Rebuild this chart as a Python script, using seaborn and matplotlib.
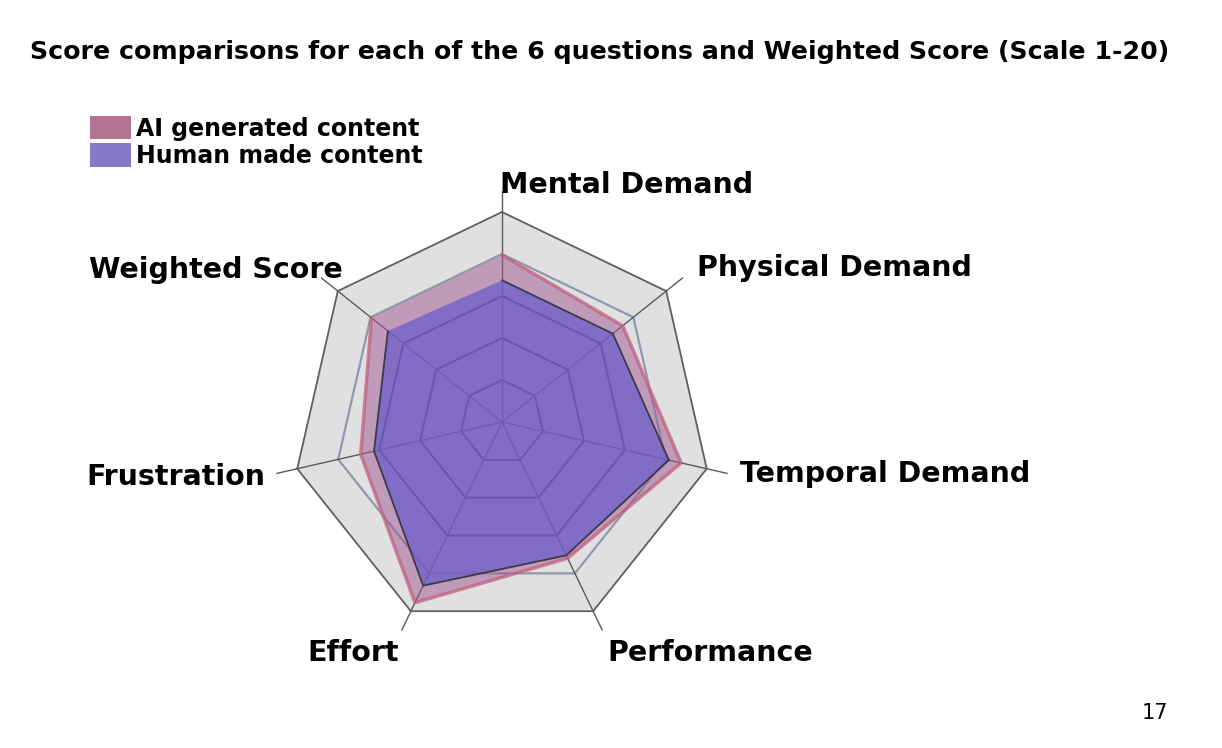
import numpy as np
import matplotlib
matplotlib.use("Agg")
import matplotlib.pyplot as plt
import seaborn as sns
from matplotlib.patches import Patch

# data (scale 1-20)
axes_labels = ["Mental Demand", "Physical Demand", "Temporal Demand", "Performance",
               "Effort", "Frustration", "Weighted Score"]
ai_scores = [15.9, 14.7, 17.5, 14.4, 19.1, 13.8, 15.9]
human_scores = [13.5, 13.5, 16.3, 14.1, 17.3, 12.5, 13.9]
ring_levels = [4, 8, 12, 16, 20]
series_names = ["AI generated content", "Human made content"]

sns.set_theme(style="white")
plt.rcParams["font.family"] = ["DejaVu Sans"]
plt.rcParams["text.color"] = "black"

n = len(axes_labels)
# clockwise from the top
theta = np.pi / 2 - 2 * np.pi * np.arange(n) / n

def to_xy(vals):
    v = np.asarray(vals, dtype=float)
    x = v * np.cos(theta)
    y = v * np.sin(theta)
    return np.append(x, x[0]), np.append(y, y[0])

fig = plt.figure(figsize=(12.22, 7.48), dpi=100)
# centre at ~(502, 422) px, 10.5 px per score unit
ax = fig.add_axes([208 / 1222, 32 / 748, 588 / 1222, 588 / 748])
ax.set_xlim(-28, 28); ax.set_ylim(-28, 28)
ax.set_aspect("equal")
ax.axis("off")

# background + grid
bx, by = to_xy([ring_levels[-1]] * n)
ax.fill(bx, by, color="#e0e0e0", zorder=0)
for lvl in ring_levels:
    rx, ry = to_xy([lvl] * n)
    if lvl == 16:
        ax.plot(rx, ry, color="#8e9aab", lw=1.6, zorder=1)
    elif lvl == 20:
        ax.plot(rx, ry, color="#606060", lw=1.3, zorder=1)
    else:
        ax.plot(rx, ry, color="#404040", lw=1.5, zorder=1)
for t in theta:
    ax.plot([0, 22 * np.cos(t)], [0, 22 * np.sin(t)], color="#5a5a5a", lw=1.0, zorder=1)

# series
ax_, ay_ = to_xy(ai_scores)
ax.fill(ax_, ay_, color="#a05894", alpha=0.5, lw=0, zorder=2)
sns.lineplot(x=ax_, y=ay_, sort=False, ax=ax, color="#c0607f", lw=2.5, alpha=0.75, zorder=3)
hx, hy = to_xy(human_scores)
ax.fill(hx, hy, color="#6a5ccc", alpha=0.72, lw=0, zorder=4)
sns.lineplot(x=hx, y=hy, sort=False, ax=ax, color="#3a3a4a", lw=1.3, zorder=5)

# axis labels
label_pos = [(-0.2, 22.6, "left"), (18.6, 14.7, "left"), (22.7, -5.0, "left"),
             (10.0, -22.0, "left"), (-9.8, -22.0, "right"), (-22.5, -5.2, "right"),
             (-15.2, 14.5, "right")]
for lab, (lx, ly, ha) in zip(axes_labels, label_pos):
    ax.text(lx, ly, lab, ha=ha, va="center", fontsize=20.5, fontweight="bold",
            color="black", clip_on=False)

fig.text(600 / 1222, 1 - 52 / 748, "Score comparisons for each of the 6 questions and Weighted Score (Scale 1-20)",
         ha="center", va="center", fontsize=18.2, fontweight="bold")

handles = [Patch(facecolor="#b47594", edgecolor="none"), Patch(facecolor="#8878c8", edgecolor="none")]
fig.legend(handles, series_names, loc="upper left", bbox_to_anchor=(90 / 1222, 1 - 116 / 748),
           frameon=False, handlelength=1.75, handleheight=1.15, handletextpad=0.2,
           labelspacing=0.1, borderaxespad=0, borderpad=0,
           prop={"weight": "bold", "size": 17})

fig.text(1155 / 1222, 1 - 713 / 748, "17", ha="center", va="center", fontsize=15)

fig.savefig("out.png", dpi=100)
